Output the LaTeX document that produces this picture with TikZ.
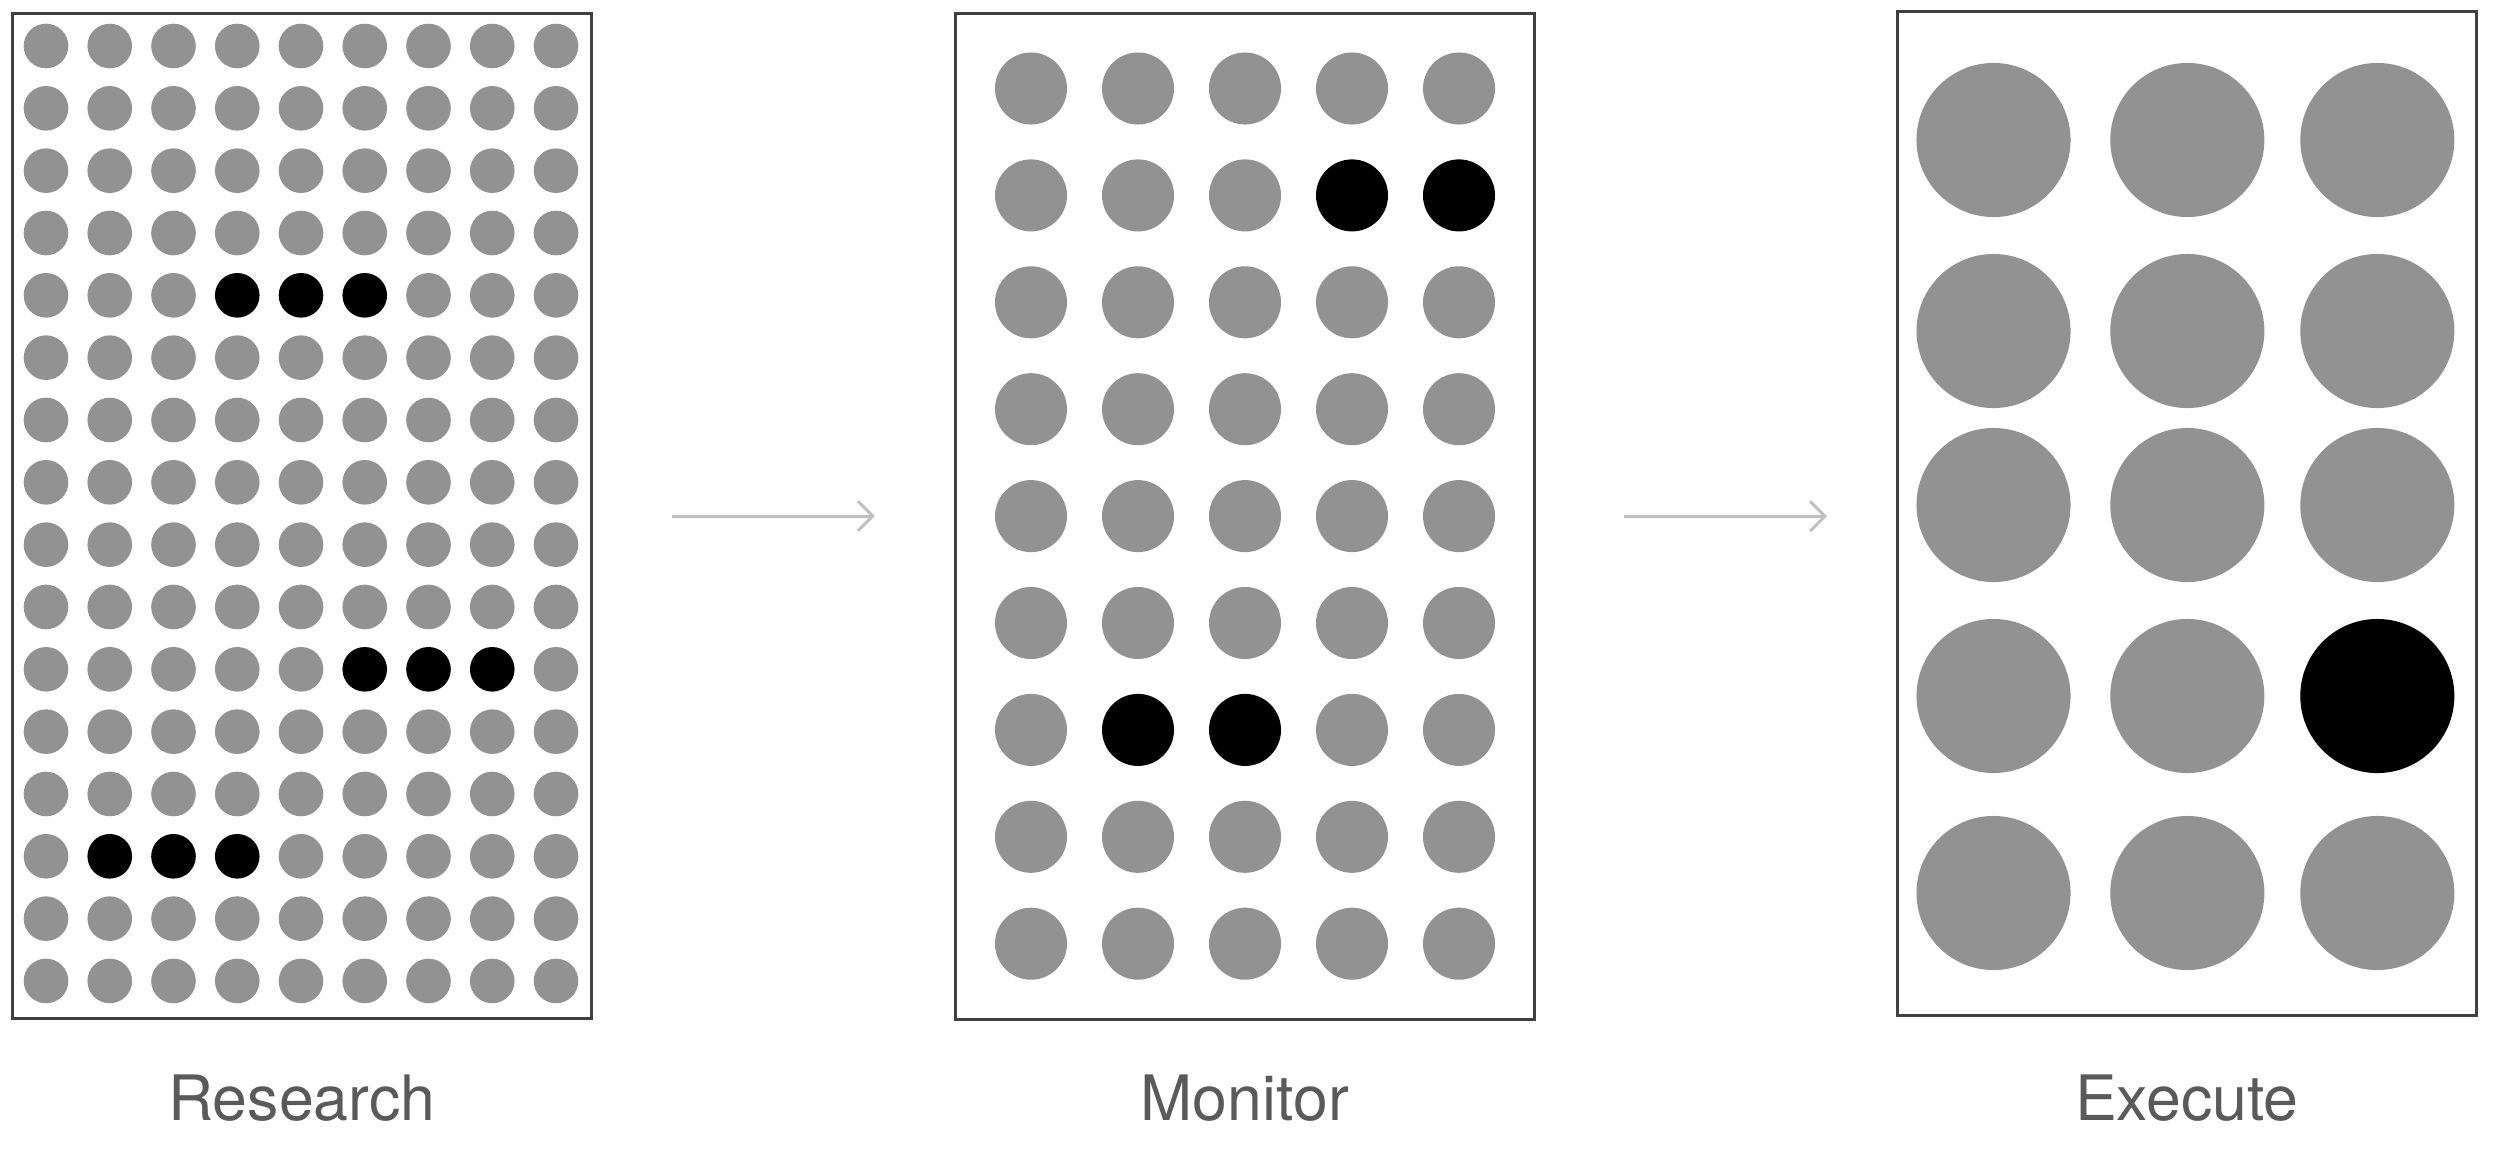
\documentclass[tikz,border=0pt]{standalone}
\usepackage{fontspec}
\setmainfont{TeX Gyre Heros}
\usepackage{tikz}
\usetikzlibrary{arrows.meta, positioning}

\definecolor{dotgray}{HTML}{929292}
\definecolor{framegray}{HTML}{404040}
\definecolor{arrowgray}{HTML}{C0C0C0}
\definecolor{textgray}{HTML}{5A5A5A}

\tikzset{
    panel/.style={draw=framegray, line width=0.03cm, rectangle, inner sep=0pt, outer sep=0pt,
        minimum width=5.785cm},
    dot/.style={circle, inner sep=0pt, outer sep=0pt, draw=none},
    flow/.style={draw=arrowgray, line width=0.03cm, -{Straight Barb[length=4.2pt, width=8.4pt]}},
    caption/.style={text=textgray, font=\fontsize{17.8}{21}\selectfont, anchor=base, inner sep=0pt}
}

\begin{document}
\begin{tikzpicture}[x=0.01cm, y=-0.01cm]
    \useasboundingbox (0,0) rectangle (2494,1148);

    % frames
    \node[panel, minimum height=10.05cm] (research) at (301.75,516) {};
    \node[panel, minimum height=10.05cm] (monitor) at (1244.75,516.25) {};
    \node[panel, minimum height=10.03cm] (execute) at (2186.75,513.4) {};

    % research grid
    \foreach \r in {1,...,16}
        \foreach \c in {1,...,9} {
            \pgfmathtruncatemacro{\hit}{(\r==5 && \c>=4 && \c<=6) || (\r==11 && \c>=6 && \c<=8) || (\r==14 && \c>=2 && \c<=4)}
            \ifnum\hit=1 \def\dotcol{black}\else\def\dotcol{dotgray}\fi
            \node[dot, fill=\dotcol, minimum size=0.446cm] (r-\r-\c) at ({46+63.75*(\c-1)},{46+62.33*(\r-1)}) {};
        }

    % monitor grid
    \foreach \r in {1,...,9}
        \foreach \c in {1,...,5} {
            \pgfmathtruncatemacro{\hit}{(\r==2 && \c>=4) || (\r==7 && \c>=2 && \c<=3)}
            \ifnum\hit=1 \def\dotcol{black}\else\def\dotcol{dotgray}\fi
            \node[dot, fill=\dotcol, minimum size=0.72cm] (m-\r-\c) at ({1031+107*(\c-1)},{88.5+106.9*(\r-1)}) {};
        }

    % execute grid
    \foreach \r/\y in {1/140,2/331,3/505,4/696,5/893}
        \foreach \c/\x in {1/1993.5,2/2187.3,3/2377.3} {
            \pgfmathtruncatemacro{\hit}{\r==4 && \c==3}
            \ifnum\hit=1 \def\dotcol{black}\else\def\dotcol{dotgray}\fi
            \node[dot, fill=\dotcol, minimum size=1.54cm] (e-\r-\c) at (\x,\y) {};
        }

    % arrows
    \draw[flow, shorten <=0.807cm, shorten >=0.805cm] (research.east) -- (research.east -| monitor.west);
    \draw[flow, shorten <=0.9cm, shorten >=0.702cm] (monitor.east) -- (monitor.east -| execute.west);

    % captions
    \node[caption] (research-text) at (301.75,1120) {Research};
    \node[caption] (monitor-text) at (1244.75,1120) {Monitor};
    \node[caption] (execute-text) at (2186.75,1120) {Execute};

\end{tikzpicture}
\end{document}
